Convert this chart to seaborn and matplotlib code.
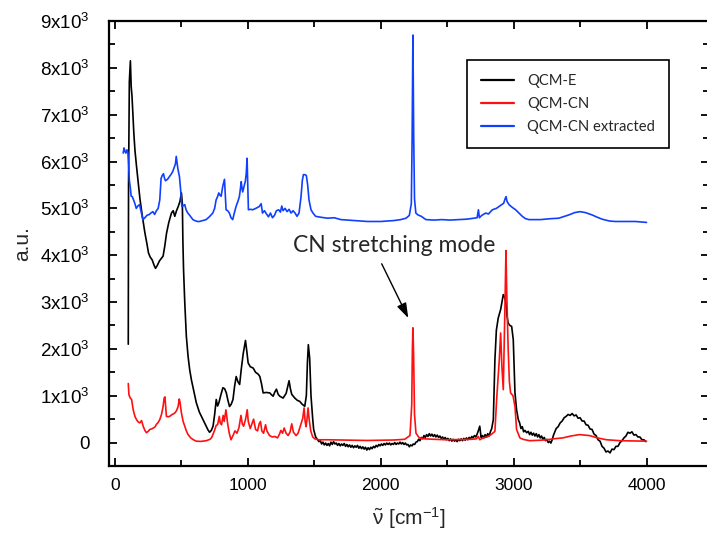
import matplotlib
matplotlib.use("Agg")
import matplotlib.pyplot as plt
from matplotlib.ticker import MultipleLocator, FuncFormatter
import numpy as np
import pandas as pd
import seaborn as sns

# ---- spectra (wavenumber in cm^-1, intensity in a.u.) ----
qcm_e_wavenumber = [
    100, 102, 108, 116, 122, 128, 135, 142, 150, 162, 175, 188, 205, 225, 240, 252,
    265, 280, 295, 305, 318, 335, 362, 375, 388, 405, 425, 438, 450, 463, 476, 489,
    500, 507, 511, 516, 525, 537, 550, 562, 575, 595, 612, 635, 662, 685, 700, 712,
    725, 738, 750, 762, 772, 782, 795, 812, 825, 838, 850, 862, 875, 888, 900, 912,
    925, 938, 950, 965, 982, 992, 1002, 1018, 1040, 1058, 1078, 1090, 1103, 1115,
    1138, 1165, 1178, 1190, 1203, 1215, 1228, 1240, 1265, 1288, 1310, 1320, 1330,
    1353, 1373, 1390, 1408, 1428, 1440, 1448, 1455, 1465, 1475, 1488,
    1495, 1510, 1525, 1535, 1545, 1555, 1565, 1575, 1585, 1595, 1605, 1615, 1625,
    1635, 1645, 1655, 1665, 1675, 1685, 1695, 1705, 1715, 1725, 1735, 1745, 1755,
    1765, 1775, 1785, 1795, 1805, 1815, 1825, 1835, 1845, 1855, 1865, 1875, 1885,
    1895, 1905, 1915, 1925, 1935, 1945, 1955, 1965, 1975, 1985, 1995, 2005, 2015,
    2025, 2035, 2045, 2055, 2065, 2075, 2085, 2095, 2105, 2115, 2125, 2135, 2145,
    2155, 2165, 2175, 2185, 2195, 2205, 2215, 2225, 2235, 2245, 2255, 2265, 2275,
    2285, 2295, 2305, 2315, 2325, 2335, 2345, 2355, 2365, 2375, 2385, 2395, 2405,
    2415, 2425, 2435, 2445, 2455, 2465, 2475, 2485, 2495, 2505, 2515, 2525, 2535,
    2545, 2555, 2565, 2575, 2585, 2595, 2605, 2615, 2625, 2635, 2645, 2655, 2665,
    2675, 2685, 2695, 2705, 2715, 2725, 2735, 2745, 2755, 2765, 2775, 2785, 2795,
    2805, 2815, 2825, 2835, 2847, 2859, 2870, 2884, 2902, 2912, 2922, 2932, 2942,
    2950, 2959, 2972, 2985, 2997, 3005, 3010, 3022, 3035, 3045, 3055, 3065, 3075,
    3085, 3098, 3110, 3120, 3130, 3140, 3150, 3160, 3170, 3180, 3190, 3200, 3210,
    3220, 3230, 3240, 3250, 3260, 3270, 3280, 3290, 3300, 3310, 3320, 3335, 3350,
    3365, 3380, 3395, 3410, 3425, 3440, 3455, 3470, 3485, 3500, 3515, 3530, 3545,
    3560, 3575, 3590, 3605, 3620, 3635, 3650, 3665, 3680, 3695, 3710, 3725, 3740,
    3755, 3770, 3785, 3800, 3815, 3830, 3845, 3860, 3875, 3890, 3905, 3920, 3935,
    3950, 3965, 3980, 3995,
]
qcm_e_intensity = [
    2100, 5500, 7700, 8150, 7600, 7400, 7000, 6600, 6250, 5900, 5550, 5200, 4850, 4480, 4250, 4050,
    3960, 3900, 3780, 3720, 3780, 3880, 3980, 4200, 4470, 4700, 4900, 4950, 4830, 4950, 5040, 5150,
    5330, 5100, 4300, 3690, 3000, 2270, 1840, 1560, 1340, 1080, 850, 650, 490, 350, 270, 220,
    260, 350, 600, 920, 780, 850, 1000, 1170, 1150, 1060, 900, 770, 820, 920, 1200, 1410,
    1300, 1240, 1560, 1900, 2180, 1950, 1700, 1620, 1590, 1500, 1460, 1410, 1250, 1060,
    1070, 1060, 1020, 990, 1080, 1140, 1030, 990, 950, 1050, 1320, 1150, 1030,
    950, 900, 880, 820, 775, 1000, 1700, 2090, 1800, 1000, 500,
    280, 120, 60, 20, 40, -30, 10, -50, -10, -60, -20, -70, 10,
    -40, 20, -30, -10, -60, -20, -70, -30, -60, -20, -80, -40, -90,
    -50, -100, -60, -110, -70, -100, -60, -120, -80, -130, -90, -140, -100,
    -160, -110, -150, -100, -130, -80, -110, -60, -90, -40, -70, -30, -60,
    -20, -50, -10, -40, -10, -50, -20, -40, 0, -40, -10, -30, 10,
    -30, 0, -40, -10, -50, -40, -90, -50, -70, -30, -40, 10, 20,
    70, 40, 110, 80, 150, 110, 170, 130, 190, 140, 180, 130, 170,
    120, 160, 110, 140, 90, 120, 70, 110, 60, 90, 40, 80, 30,
    70, 30, 60, 20, 70, 40, 80, 40, 90, 50, 100, 60, 110,
    80, 130, 100, 150, 120, 180, 260, 350, 110, 150, 100, 170, 120,
    190, 140, 230, 300, 490, 1770, 2400, 2660, 2840, 3000, 3160, 3100, 2980,
    2700, 2550, 2500, 2480, 2200, 1500, 1060, 700, 490, 420, 300, 340, 230,
    260, 210, 240, 170, 220, 160, 200, 140, 190, 120, 170, 100, 140,
    70, 110, 40, 70, 0, 30, -10, 60, 160, 230, 300, 340, 420,
    460, 530, 560, 600, 580, 620, 570, 590, 520, 530, 460, 460, 380,
    370, 290, 280, 180, 150, 60, 30, -80, -120, -200, -180, -220, -140,
    -150, -80, -80, 0, 40, 100, 140, 220, 200, 230, 160, 170, 120,
    120, 60, 60, 20,
]

qcm_cn_wavenumber = [
    100, 105, 115, 125, 137, 150, 162, 175, 187, 200, 212, 225, 237, 250, 262, 275,
    287, 300, 312, 325, 337, 350, 362, 370, 376, 383, 387, 400, 412, 425, 438, 450,
    463, 475, 484, 490, 500, 513, 525, 537, 550, 570, 590, 612, 645, 687, 715, 728,
    748, 762, 772, 785, 792, 802, 814, 822, 835, 848, 860, 873, 888, 903, 918, 933,
    948, 958, 968, 983, 995, 1003, 1018, 1033, 1043, 1058, 1073, 1085, 1095, 1105,
    1118, 1133, 1143, 1163, 1183, 1203, 1223, 1238, 1248, 1261, 1273, 1288, 1303,
    1318, 1330, 1343, 1363, 1378, 1398, 1413, 1423, 1431, 1438, 1445, 1453, 1461,
    1473, 1488, 1503, 1533, 1600, 1700, 1800, 1900, 2000, 2100, 2180, 2220, 2233,
    2238, 2242, 2247, 2254, 2265, 2290, 2330, 2400, 2500, 2600, 2680, 2720, 2734,
    2745, 2770, 2800, 2830, 2859, 2872, 2892, 2902, 2912, 2922, 2935, 2942, 2948,
    2959, 2968, 2977, 2995, 3010, 3022, 3047, 3070, 3120, 3200, 3250, 3300, 3370,
    3430, 3495, 3570, 3630, 3700, 3800, 3900, 4000,
]
qcm_cn_intensity = [
    1260, 1020, 950, 920, 700, 560, 490, 440, 420, 470, 350, 260, 210, 240, 280, 290,
    310, 330, 390, 430, 490, 600, 770, 950, 975, 700, 560, 550, 560, 590, 610, 630,
    680, 770, 930, 850, 630, 450, 350, 250, 170, 100, 60, 30, 25, 40, 70, 110,
    250, 370, 380, 560, 420, 380, 580, 450, 700, 400, 200, 60, 150, 250, 200, 320,
    580, 400, 350, 500, 700, 450, 300, 420, 500, 280, 250, 400, 450, 250,
    200, 380, 250, 150, 120, 130, 100, 180, 260, 200, 310, 200, 150,
    230, 400, 220, 150, 200, 380, 520, 740, 450, 340, 500, 740, 500,
    250, 120, 80, 60, 60, 55, 50, 45, 50, 55, 70, 150, 800,
    2000, 2450, 1900, 600, 200, 100, 80, 70, 60, 65, 70, 80, 130,
    60, 100, 120, 170, 240, 920, 1770, 2340, 1600, 1130, 2980, 4100, 3200,
    1980, 1300, 1060, 1000, 770, 280, 100, 70, 40, 50, 60, 80, 100,
    140, 170, 150, 100, 60, 40, 35, 30,
]

qcm_cn_extracted_wavenumber = [
    62, 68, 75, 82, 90, 97, 102, 108, 114, 122, 130, 140, 150, 160, 172, 185,
    195, 210, 225, 240, 258, 270, 285, 298, 312, 325, 337, 347, 355, 365, 372, 380,
    395, 410, 423, 435, 448, 455, 461, 467, 473, 485, 494, 503, 515, 525, 535, 548,
    560, 575, 586, 600, 620, 636, 660, 686, 710, 736, 750, 761, 772, 781, 790, 799,
    811, 818, 824, 830, 836, 848, 861, 873, 886, 898, 911, 925, 936, 943, 950, 955,
    961, 970, 981, 988, 994, 999, 1004, 1020, 1036, 1060, 1086, 1100, 1110, 1125,
    1140, 1155, 1170, 1185, 1200, 1215, 1232, 1245, 1255, 1265, 1280, 1295, 1310,
    1325, 1340, 1355, 1370, 1385, 1400, 1410, 1418, 1430, 1440, 1450, 1460, 1475,
    1490, 1510, 1550, 1600, 1650, 1700, 1750, 1800, 1850, 1900, 1950, 2000, 2050,
    2100, 2150, 2190, 2215, 2230, 2236, 2242, 2248, 2254, 2264, 2280, 2305, 2340,
    2400, 2460, 2520, 2580, 2650, 2700, 2725, 2735, 2742, 2760, 2790, 2810, 2840,
    2870, 2890, 2910, 2925, 2935, 2943, 2950, 2965, 2990, 3015, 3040, 3065, 3090,
    3115, 3200, 3280, 3340, 3415, 3460, 3500, 3540, 3590, 3630, 3665, 3720, 3765,
    3850, 3915, 3960, 4000,
]
qcm_cn_extracted_intensity = [
    6180, 6290, 6220, 6180, 6250, 6200, 5970, 5600, 5470, 5260, 5250, 5180, 5100, 5000, 5050, 5080,
    4950, 4760, 4800, 4850, 4870, 4900, 4930, 4870, 4950, 5000, 5180, 5640, 5700, 5740, 5650, 5590,
    5620, 5680, 5730, 5790, 5890, 5950, 6110, 5980, 5850, 5680, 5400, 5040, 5060, 5080, 4970, 4900,
    4860, 4800, 4760, 4740, 4720, 4720, 4740, 4760, 4820, 4900, 5000, 5180, 5250, 5330, 5280, 5260,
    5470, 5550, 5620, 5300, 4970, 4950, 4900, 4800, 4760, 4900, 5040, 5150, 5250, 5400, 5570, 5450,
    5350, 5450, 5580, 5750, 6070, 5500, 4970, 4980, 4970, 5000, 5040, 5100, 4900, 4950,
    4880, 4820, 4900, 4800, 4850, 4950, 4970, 4920, 5050, 4950, 5000, 4930, 4980,
    4900, 4950, 4900, 4830, 4900, 5250, 5600, 5720, 5720, 5700, 5500, 5180, 4970,
    4900, 4830, 4810, 4790, 4800, 4760, 4750, 4740, 4730, 4720, 4720, 4720, 4730,
    4740, 4760, 4790, 4850, 5100, 6500, 8700, 6500, 5200, 4900, 4860, 4830, 4760,
    4750, 4760, 4750, 4760, 4770, 4790, 4800, 4970, 4800, 4850, 4900, 4880, 4970,
    5000, 5040, 5080, 5110, 5200, 5250, 5150, 5080, 5020, 4970, 4900, 4830, 4780,
    4760, 4760, 4780, 4790, 4860, 4910, 4930, 4910, 4860, 4810, 4770, 4730, 4720,
    4720, 4720, 4710, 4700,
]

series_names = ["QCM-E", "QCM-CN", "QCM-CN extracted"]
series_colors = ["#000000", "#ff1010", "#1040ff"]

x_ticks = [0, 1000, 2000, 3000, 4000]
y_tick_values = [0, 1000, 2000, 3000, 4000, 5000, 6000, 7000, 8000, 9000]

annotation_text = "CN stretching mode"

# ---- long-form table for seaborn ----
frames = []
for name, wn, inten in zip(
    series_names,
    [qcm_e_wavenumber, qcm_cn_wavenumber, qcm_cn_extracted_wavenumber],
    [qcm_e_intensity, qcm_cn_intensity, qcm_cn_extracted_intensity],
):
    frames.append(pd.DataFrame({"wavenumber": wn, "intensity": inten, "series": name}))
spectra = pd.concat(frames, ignore_index=True)

sns.set_style("ticks")
plt.rcParams["font.family"] = ["Liberation Sans", "DejaVu Sans"]
plt.rcParams["mathtext.default"] = "regular"

fig = plt.figure(figsize=(7.07, 5.33), dpi=100)
ax = fig.add_axes([109 / 707, 67 / 533, 600 / 707, 445 / 533])

sns.lineplot(
    data=spectra, x="wavenumber", y="intensity", hue="series",
    hue_order=series_names, palette=series_colors,
    sort=False, estimator=None, linewidth=1.2, ax=ax,
)

ax.set_xlim(-45, 4470)
ax.set_ylim(-500, 9000)

ax.xaxis.set_major_locator(MultipleLocator(1000))
ax.xaxis.set_minor_locator(MultipleLocator(500))
ax.yaxis.set_major_locator(MultipleLocator(1000))
ax.yaxis.set_minor_locator(MultipleLocator(500))
ax.set_xticks(x_ticks)
ax.set_yticks(y_tick_values)


def y_label(v, _pos):
    k = int(round(v / 1000))
    return "0" if k == 0 else r"$\mathregular{%dx10^{3}}$" % k


ax.yaxis.set_major_formatter(FuncFormatter(y_label))

ax.tick_params(which="both", direction="in", top=True, right=True, width=1.3, colors="black")
ax.tick_params(which="major", length=6)
ax.tick_params(which="minor", length=4.5)
ax.tick_params(axis="x", which="major", labelsize=12.5, pad=9)
ax.tick_params(axis="y", which="major", labelsize=13.5, pad=14)

for side in ax.spines.values():
    side.set_linewidth(1.6)
    side.set_color("black")

ax.set_xlabel(r"$\tilde{\nu}$ [cm$^{-1}$]", fontsize=15, labelpad=8)
ax.set_ylabel("a.u.", fontsize=15, labelpad=6)

ax.text(2099, 4058, annotation_text, ha="center", va="baseline",
        fontsize=16.5, family=["Lato", "DejaVu Sans"])
ax.annotate(
    "", xy=(2207, 2659), xytext=(2007, 3817),
    arrowprops=dict(arrowstyle="-|>,head_length=0.9,head_width=0.3",
                    color="black", lw=1.0, shrinkA=0, shrinkB=0),
)

leg = ax.legend(
    loc="upper left", bbox_to_anchor=(0.596, 0.912), frameon=True, fancybox=False,
    prop={"family": ["Lato", "DejaVu Sans"], "size": 10.6},
    handlelength=2.3, handletextpad=0.85, borderpad=0.95, labelspacing=0.6,
    borderaxespad=0,
)
leg.get_frame().set_edgecolor("black")
leg.get_frame().set_linewidth(1.2)
leg.get_frame().set_alpha(1)
for h in leg.get_lines():
    h.set_linewidth(1.6)

fig.savefig("out.png", dpi=100)
